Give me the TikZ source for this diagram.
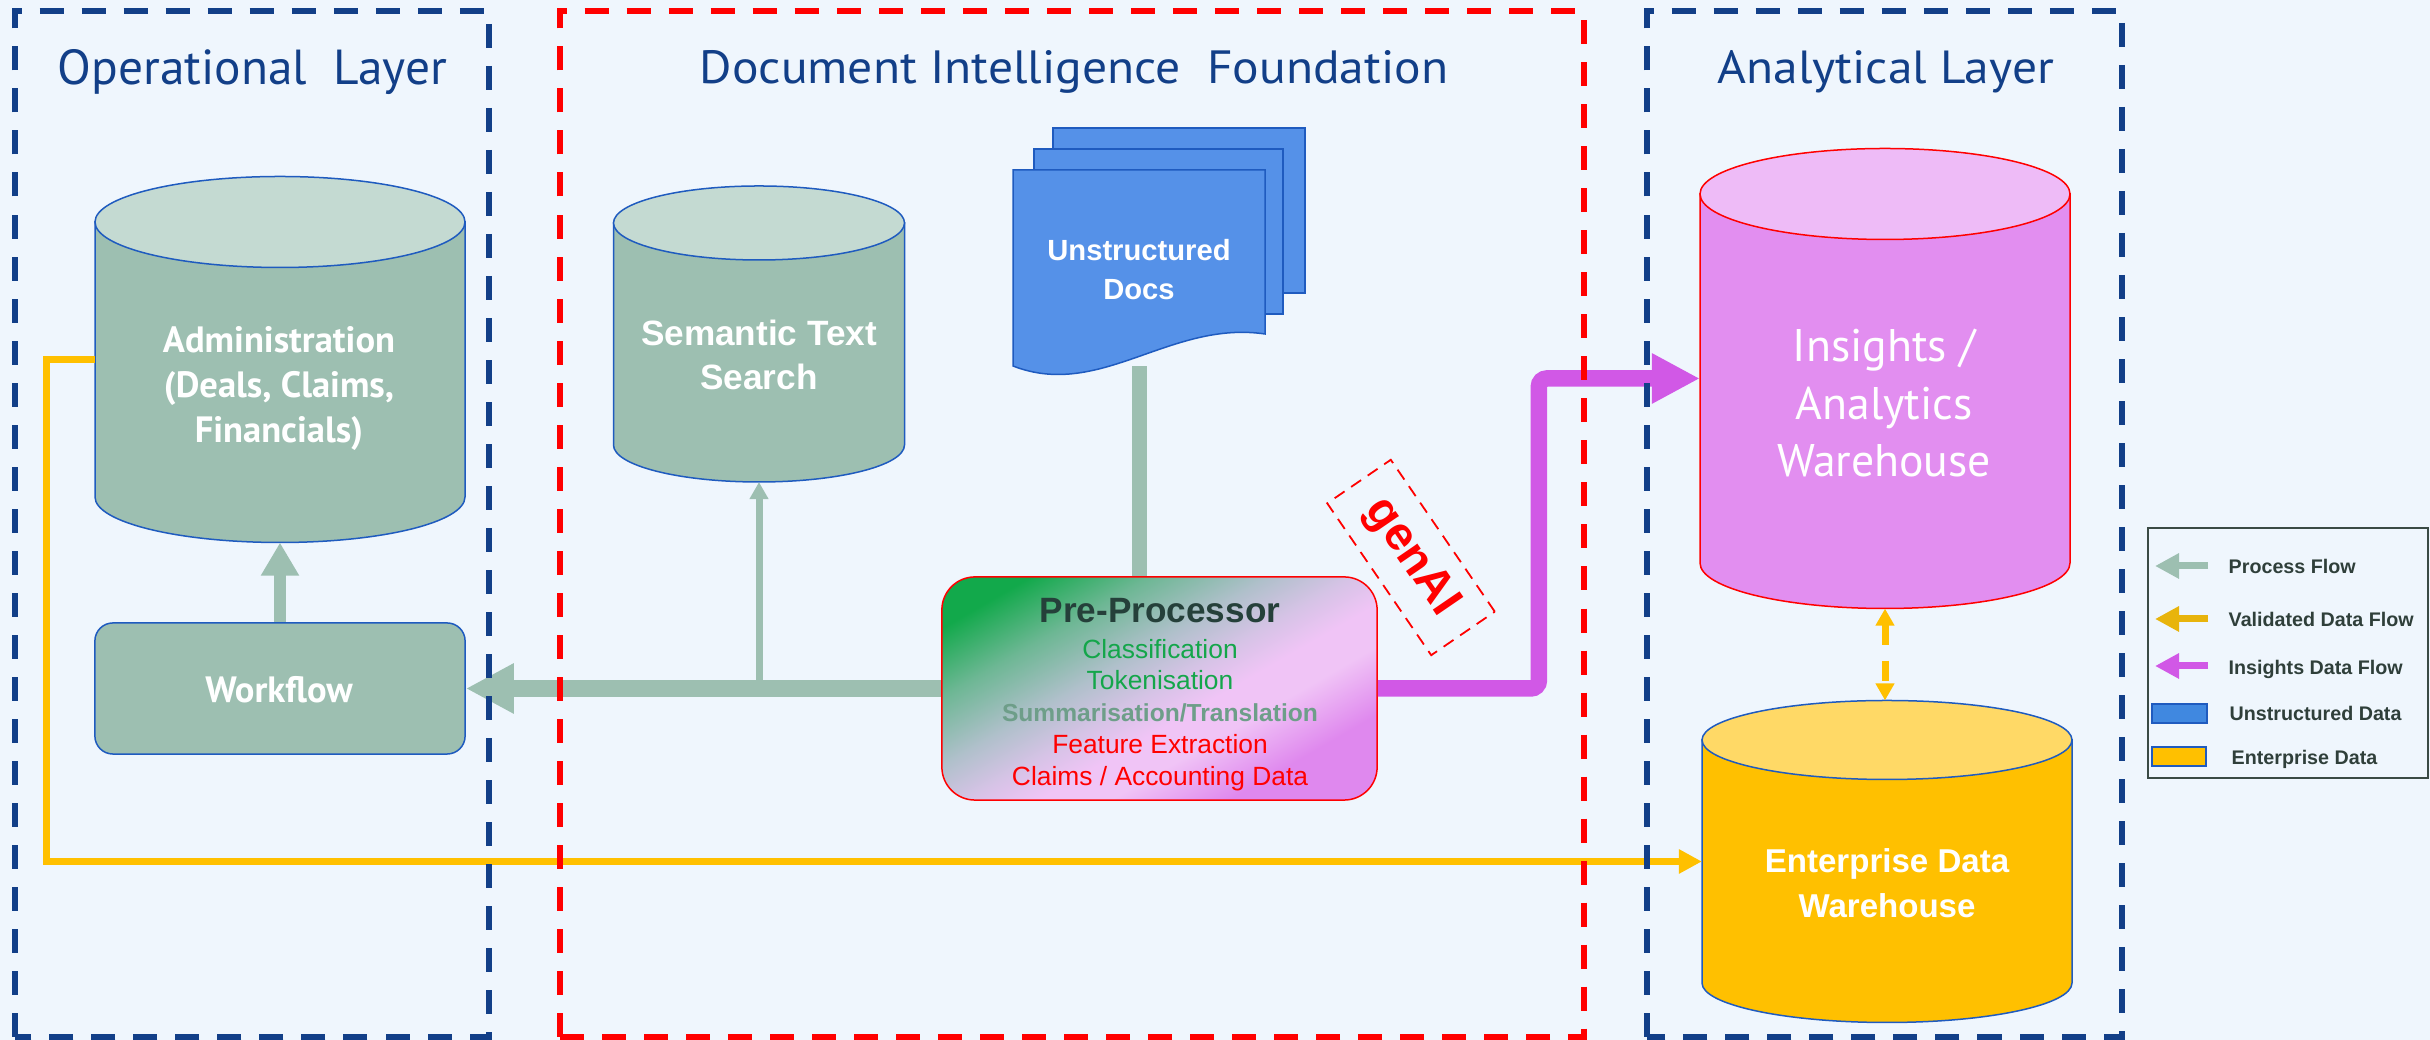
\documentclass[tikz,border=0pt]{standalone}
\usepackage{fontspec}
\usepackage{graphicx}
\setmainfont{Liberation Sans}
\newfontfamily\ptsans{PT Sans}
\usetikzlibrary{arrows.meta,calc}
\definecolor{bg}{HTML}{EFF6FD}
\definecolor{navy}{HTML}{123F88}
\definecolor{sage}{HTML}{9DBFB1}
\definecolor{sagetop}{HTML}{C4DAD2}
\definecolor{cylblue}{HTML}{1F5BBF}
\definecolor{gold}{HTML}{FFC000}
\definecolor{goldtop}{HTML}{FFD966}
\definecolor{goldleg}{HTML}{E8B40C}
\definecolor{mag}{HTML}{D158E6}
\definecolor{insbody}{HTML}{E28EF0}
\definecolor{instop}{HTML}{EEBBF7}
\definecolor{docblue}{HTML}{5591E8}
\definecolor{legblue}{HTML}{4088E0}
\definecolor{ppgreen}{HTML}{12A94B}
\definecolor{ppsagemid}{HTML}{6DB794}
\definecolor{ppgray}{HTML}{B0C0CB}
\definecolor{pplav}{HTML}{D6C3E6}
\definecolor{pppink}{HTML}{F0C4F6}
\definecolor{ppviolet}{HTML}{DF88EE}
\definecolor{ppdark}{HTML}{25403A}
\definecolor{ppgreentext}{HTML}{14A64A}
\definecolor{ppsage}{HTML}{6E9E89}
\definecolor{legtext}{HTML}{2F3F3A}
\definecolor{legborder}{HTML}{3A4A44}
\pgfdeclarehorizontalshading{ppshade}{100bp}{color(0bp)=(ppgreen); color(23bp)=(ppgreen); color(33bp)=(ppsagemid); color(43bp)=(ppgray); color(50bp)=(pplav); color(56bp)=(pppink); color(62bp)=(pppink); color(72bp)=(ppviolet); color(100bp)=(ppviolet)}
\newcommand{\drawcyl}[8]{%
  \filldraw[fill=#6, draw=#8, line width=0.015cm] ({#1-#2},#3) -- ({#1-#2},#4) arc[start angle=180, end angle=360, x radius=#2, y radius=#5] -- ({#1+#2},#3) -- cycle;
  \filldraw[fill=#7, draw=#8, line width=0.015cm] (#1,#3) ellipse[x radius=#2, y radius=#5];
}
\begin{document}
\begin{tikzpicture}[x=0.01cm,y=0.01cm,
  layerframe/.style={line width=0.06cm, dash pattern=on 0.24cm off 0.18cm},
  shapebox/.style={inner sep=0, outer sep=0, draw=none},
  proc/.style={draw=sage, line width=0.17cm, -{Triangle[length=0.48cm,width=0.47cm]}},
  procthin/.style={draw=sage, line width=0.115cm, -{Triangle[length=0.33cm,width=0.36cm]}},
  semarrow/.style={draw=sage, line width=0.07cm, -{Triangle[length=0.17cm,width=0.18cm]}},
  feed/.style={draw=sage, line width=0.15cm},
  valid/.style={draw=gold, line width=0.07cm, -{Triangle[length=0.23cm,width=0.23cm]}},
  insflow/.style={draw=mag, line width=0.165cm, rounded corners=0.08cm, -{Triangle[length=0.48cm,width=0.47cm]}},
  dbl/.style={draw=gold, line width=0.07cm, dash pattern=on 0.2cm off 0.16cm, {Triangle[length=0.17cm,width=0.18cm]}-{Triangle[length=0.17cm,width=0.18cm]}},
  legarrow/.style={draw=#1, line width=0.07cm, -{Triangle[length=0.24cm,width=0.24cm]}},
  admtext/.style={text=white, inner sep=0, anchor=base, font=\ptsans\bfseries\fontsize{10.4pt}{12pt}\selectfont},
  semtext/.style={text=white, inner sep=0, anchor=base, font=\bfseries\fontsize{10pt}{12pt}\selectfont},
  doctext/.style={text=white, inner sep=0, anchor=base, font=\bfseries\fontsize{8.3pt}{10pt}\selectfont},
  pptext/.style={inner sep=0, anchor=base, font=\fontsize{7.5pt}{9pt}\selectfont},
  instext/.style={text=white, inner sep=0, anchor=base, font=\ptsans\fontsize{13pt}{15pt}\selectfont},
  edwtext/.style={text=white, inner sep=0, anchor=base, font=\bfseries\fontsize{9.4pt}{11pt}\selectfont},
  legtxt/.style={text=legtext, inner sep=0, anchor=base west, font=\bfseries\fontsize{5.6pt}{7pt}\selectfont},
  titletext/.style={text=navy, inner sep=0, anchor=base west},
  docpage/.style={fill=docblue, draw=cylblue, line width=0.015cm}
]
\fill[bg] (0,0) rectangle (2430,1040);
\useasboundingbox (0,0) rectangle (2430,1040);

% cylinders
\drawcyl{280}{185}{818}{543}{45.5}{sage}{sagetop}{cylblue}
\drawcyl{759}{145.5}{817}{595}{37}{sage}{sagetop}{cylblue}
\drawcyl{1885}{185}{846}{477}{45.5}{insbody}{instop}{red}
\drawcyl{1887}{185}{300}{57}{39.5}{gold}{goldtop}{cylblue}

% named shape nodes
\node[shapebox, minimum width=3.7cm, minimum height=3.66cm] (adm) at (280,680.5) {};
\node[shapebox, minimum width=2.91cm, minimum height=2.96cm] (sem) at (759,706) {};
\node[shapebox, minimum width=3.7cm, minimum height=4.6cm] (ins) at (1885,661.5) {};
\node[shapebox, minimum width=3.7cm, minimum height=3.22cm] (edw) at (1887,178.5) {};
\node[shapebox, minimum width=2.52cm, minimum height=1.96cm] (docs) at (1139,772) {};

\node[draw=cylblue, fill=sage, rounded corners=0.18cm, line width=0.015cm, minimum width=3.7cm, minimum height=1.31cm, inner sep=0] (wf) at (280,351.5) {};
\node[draw=red, shading=ppshade, shading angle=-60, rounded corners=0.33cm, line width=0.015cm, minimum width=4.35cm, minimum height=2.23cm, inner sep=0] (pp) at (1159.5,351.5) {};

% feed from docs
\draw[feed] (docs.south) -- (docs.south |- pp.north);

% document stack
\filldraw[docpage] (1053,747) rectangle (1305,912);
\filldraw[docpage] (1034,726) rectangle (1283,891);
\filldraw[docpage] (1013,674) -- (1013,870) -- (1265,870) -- (1265,706) .. controls (1170,720) and (1100,640) .. (1013,674) -- cycle;

% connectors
\draw[proc] (pp.west) -- (wf.east);
\coordinate (br) at (sem.south |- pp.west);
\draw[semarrow] (br) -- (sem.south);
\draw[procthin] (wf.north) -- (adm.south);
\draw[valid] (adm.west) -- ++(-48,0) |- (edw.west);
\draw[insflow] (pp.east) -- ++(161,0) |- (ins.west);
\draw[dbl] (ins.south) -- (ins.south |- edw.north);

% texts
\node[admtext] (adm1) at (279,687) {Administration};
\node[admtext] (adm2) at (279,642) {(Deals, Claims,};
\node[admtext] (adm3) at (279,597) {Financials)};
\node[admtext] (wft) at (279,337) {Workflow};
\node[semtext] (sem1) at (759,694) {Semantic Text};
\node[semtext] (sem2) at (759,650) {Search};
\node[doctext] (doc1) at (1139,779) {Unstructured};
\node[doctext] (doc2) at (1139,740) {Docs};
\node[pptext, text=ppdark, font=\bfseries\fontsize{10pt}{12pt}\selectfont] (pp0) at (1160,417) {Pre-Processor};
\node[pptext, text=ppgreentext] (pp1) at (1160,381.7) {Classification};
\node[pptext, text=ppgreentext] (pp2) at (1160,350) {Tokenisation};
\node[pptext, text=ppsage, font=\bfseries\fontsize{7pt}{9pt}\selectfont] (pp3) at (1160,318.3) {Summarisation/Translation};
\node[pptext, text=red] (pp4) at (1160,286) {Feature Extraction};
\node[pptext, text=red] (pp5) at (1160,254) {Claims / Accounting Data};
\node[instext] (ins1) at (1884,678) {Insights /};
\node[instext] (ins2) at (1884,620) {Analytics};
\node[instext] (ins3) at (1884,563) {Warehouse};
\node[edwtext] (edw1) at (1887,167) {Enterprise Data};
\node[edwtext] (edw2) at (1887,122) {Warehouse};

% genAI tag
\node[draw=red, dash pattern=on 0.12cm off 0.08cm, line width=0.018cm, rotate=-55.6, minimum width=1.84cm, minimum height=0.77cm, text=red, font=\bfseries\fontsize{13.4pt}{15pt}\selectfont, inner sep=0] (genai) at (1411,482.5) {genAI};

% legend
\node[draw=legborder, line width=0.02cm, minimum width=2.8cm, minimum height=2.5cm, inner sep=0] (leg) at (2288,387) {};
\coordinate (lpa) at (2208,474); \coordinate (lpb) at (2155,474);
\coordinate (lva) at (2208,421); \coordinate (lvb) at (2155,421);
\coordinate (lia) at (2208,374); \coordinate (lib) at (2155,374);
\draw[legarrow=sage] (lpa) -- (lpb);
\draw[legarrow=goldleg] (lva) -- (lvb);
\draw[legarrow=mag] (lia) -- (lib);
\node[draw=cylblue, fill=legblue, line width=0.015cm, minimum width=0.55cm, minimum height=0.19cm, inner sep=0] (legu) at (2179.5,326.5) {};
\node[draw=cylblue, fill=gold, line width=0.015cm, minimum width=0.54cm, minimum height=0.19cm, inner sep=0] (lege) at (2179,283.5) {};
\node[legtxt] (lt1) at (2228,466) {Process Flow};
\node[legtxt] (lt2) at (2228,413) {Validated Data Flow};
\node[legtxt] (lt3) at (2228,365) {Insights Data Flow};
\node[legtxt] (lt4) at (2229,319) {Unstructured Data};
\node[legtxt] (lt5) at (2231,275) {Enterprise Data};

% layer frames
\draw[layerframe, draw=navy] (15,3) rectangle (489,1029);
\draw[layerframe, draw=red] (560,3) rectangle (1584,1029);
\draw[layerframe, draw=navy] (1647,3) rectangle (2122,1029);

% titles
\node[titletext] (t1) at (57,955) {\resizebox{3.89cm}{0.35cm}{\ptsans Operational~~Layer}};
\node[titletext] (t2) at (699,956) {\resizebox{7.48cm}{0.33cm}{\ptsans Document Intelligence~~Foundation}};
\node[titletext] (t3) at (1717,956) {\resizebox{3.36cm}{0.33cm}{\ptsans Analytical Layer}};
\end{tikzpicture}
\end{document}
